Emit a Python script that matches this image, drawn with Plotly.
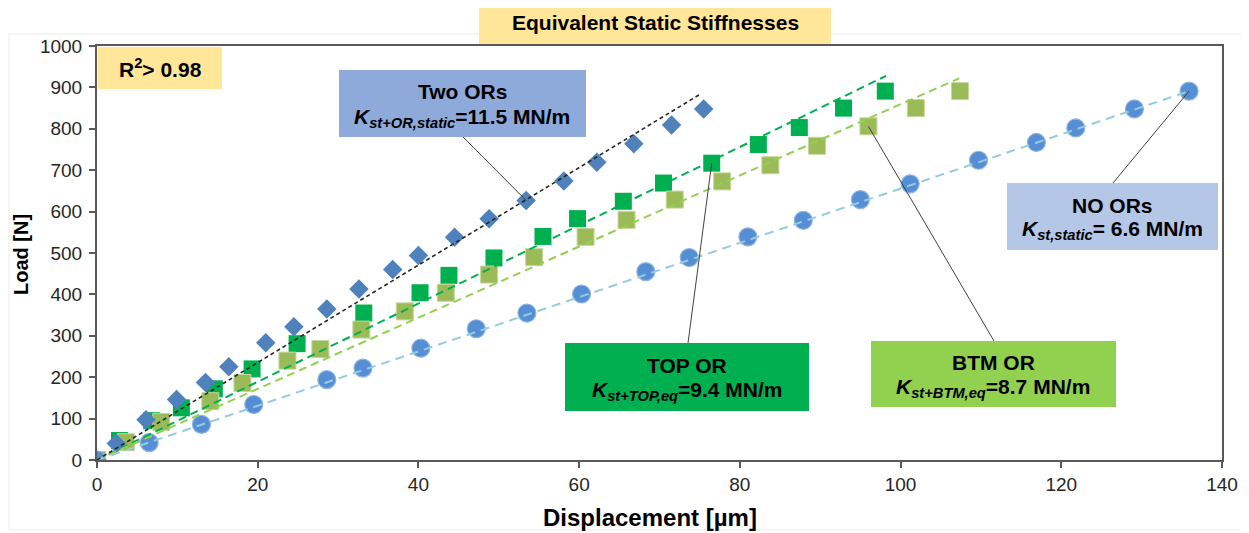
import plotly.graph_objects as go

# ---------------- data ----------------
two_x = [0, 2.4, 6.1, 9.9, 13.5, 16.4, 21.0, 24.5, 28.6, 32.6, 36.8, 40.0, 44.5, 48.8, 53.4, 58.1, 62.2, 66.8, 71.5, 75.5]
two_y = [0, 40, 97, 146, 187, 225, 283, 322, 365, 413, 460, 494, 538, 583, 627, 674, 719, 764, 809, 848]

top_x = [0, 2.8, 6.8, 10.5, 14.6, 19.3, 24.9, 33.2, 40.2, 43.8, 49.4, 55.5, 59.8, 65.5, 70.5, 76.5, 82.3, 87.4, 92.9, 98.1]
top_y = [0, 47, 95, 126, 172, 220, 281, 355, 404, 446, 488, 540, 583, 625, 669, 717, 762, 803, 850, 891]

btm_x = [0, 3.6, 8.0, 14.1, 18.1, 23.7, 27.8, 32.9, 38.3, 43.4, 48.8, 54.4, 60.8, 65.9, 71.9, 77.8, 83.8, 89.6, 96.0, 101.9, 107.4]
btm_y = [0, 43, 92, 142, 186, 240, 268, 315, 359, 404, 448, 490, 539, 580, 629, 673, 712, 759, 806, 850, 891]

no_x = [0, 6.5, 13.0, 19.5, 28.6, 33.1, 40.3, 47.2, 53.5, 60.3, 68.3, 73.7, 81.0, 87.9, 95.0, 101.2, 109.7, 116.9, 121.8, 129.1, 135.9]
no_y = [0, 42, 86, 134, 194, 222, 270, 317, 355, 401, 455, 489, 539, 579, 629, 667, 724, 767, 802, 848, 891]

# linear trend lines (start / end points)
trend_two_x, trend_two_y = [0, 75.1], [0, 884]
trend_top_x, trend_top_y = [0, 98.2], [0, 928]
trend_btm_x, trend_btm_y = [0, 107.3], [0, 922]
trend_no_x, trend_no_y = [0, 135.9], [0, 891]

x_ticks = [0, 20, 40, 60, 80, 100, 120, 140]
y_ticks = [0, 100, 200, 300, 400, 500, 600, 700, 800, 900, 1000]

title_text = "Equivalent Static Stiffnesses"
r2_text = "R<sup>2</sup>> 0.98"
x_title = "Displacement [µm]"
y_title = "Load [N]"

# ---------------- layout helpers ----------------
# the page body has an 8px margin, so the figure starts at (8, 8)
OX, OY = 8, 8
W, H = 1249 - OX, 533 - OY
# plot area in reference page pixels: x 97..1222, y 46..460
PL, PR, PT, PB = 97, 1222, 46, 460
L, R, T, B = PL - OX, W - (PR - OX), PT - OY, H - (PB - OY)
PW, PH = PR - PL, PB - PT


def px(x):
    return (x - PL) / PW


def py(y):
    return (PB - y) / PH


def dx(x):
    return (x - PL) / PW * 140


def dy(y):
    return (PB - y) / PH * 1000


FONT = "Liberation Sans, Arial, sans-serif"

fig = go.Figure()

# markers
fig.add_trace(go.Scatter(x=top_x, y=top_y, mode="markers", name="TOP OR",
                         marker=dict(symbol="square", size=17, color="#00b050",
                                     line=dict(width=0))))
fig.add_trace(go.Scatter(x=btm_x, y=btm_y, mode="markers", name="BTM OR",
                         marker=dict(symbol="square", size=17, color="#9bbb59",
                                     line=dict(width=1, color="#c4d79b"))))
fig.add_trace(go.Scatter(x=two_x, y=two_y, mode="markers", name="Two ORs",
                         marker=dict(symbol="diamond", size=15, color="#4f81bd",
                                     line=dict(width=0))))
fig.add_trace(go.Scatter(x=no_x, y=no_y, mode="markers", name="NO ORs",
                         marker=dict(symbol="circle", size=18, color="#558ed5",
                                     line=dict(width=1.2, color="#8db4e2"))))

# trend lines
fig.add_trace(go.Scatter(x=trend_top_x, y=trend_top_y, mode="lines",
                         line=dict(color="#00b050", width=2, dash="8px,5px")))
fig.add_trace(go.Scatter(x=trend_btm_x, y=trend_btm_y, mode="lines",
                         line=dict(color="#92d050", width=2, dash="8px,5px")))
fig.add_trace(go.Scatter(x=trend_no_x, y=trend_no_y, mode="lines",
                         line=dict(color="#93cddd", width=2, dash="9px,6px")))
fig.add_trace(go.Scatter(x=trend_two_x, y=trend_two_y, mode="lines",
                         line=dict(color="#262626", width=1.6, dash="4px,3px")))

shapes = []
annotations = []

# outer chart-area border
shapes.append(dict(type="rect", xref="paper", yref="paper", x0=px(9), x1=px(1246),
                   y0=py(530), y1=py(34), line=dict(color="#ececec", width=1),
                   fillcolor="rgba(0,0,0,0)", layer="below"))


def box(x0, y0, x1, y1, color):
    shapes.append(dict(type="rect", xref="paper", yref="paper", x0=px(x0), x1=px(x1),
                       y0=py(y1), y1=py(y0), fillcolor=color, line=dict(width=0),
                       layer="above"))


def text(x, y, s, size=21, angle=0):
    annotations.append(dict(x=px(x), y=py(y), xref="paper", yref="paper", text=s,
                            showarrow=False, xanchor="center", yanchor="middle",
                            textangle=angle,
                            font=dict(family=FONT, size=size, color="#000000")))


def leader(bx, by, tx, ty):
    shapes.append(dict(type="line", xref="x", yref="y", x0=dx(bx), y0=dy(by), x1=tx, y1=ty,
                       line=dict(color="#404040", width=1), layer="above"))


# title box
box(479, 2, 831, 44, "#ffe699")
text(655, 23, "<b>" + title_text + "</b>", 21)

# R2 box
box(98, 47, 222, 89, "#ffe699")
text(160, 68, "<b>" + r2_text + "</b>", 21)

# Two ORs
leader(463, 137, two_x[14], two_y[14])
box(339, 70, 586, 137, "#8eaadb")
text(462, 91, "<b>Two ORs</b>")
text(462, 118, "<b><i>K</i><sub><i>st+OR,static</i></sub>=11.5 MN/m</b>")

# NO ORs
leader(1113, 183, no_x[-1], no_y[-1])
box(1007, 183, 1218, 250, "#b4c7e7")
text(1112, 205, "<b>NO ORs</b>")
text(1112, 230, "<b><i>K</i><sub><i>st,static</i></sub>= 6.6 MN/m</b>")

# TOP OR
leader(688, 343, top_x[15], top_y[15])
box(565, 343, 809, 411, "#00b050")
text(687, 365, "<b>TOP OR</b>")
text(687, 391, "<b><i>K</i><sub><i>st+TOP,eq</i></sub>=9.4 MN/m</b>")

# BTM OR
leader(994, 341, btm_x[18], btm_y[18])
box(871, 341, 1116, 407, "#92d050")
text(993, 362, "<b>BTM OR</b>")
text(993, 388, "<b><i>K</i><sub><i>st+BTM,eq</i></sub>=8.7 MN/m</b>")

# axis titles
text(650, 517, "<b>" + x_title + "</b>", 24)
text(21, 255, "<b>" + y_title + "</b>", 20, -90)

fig.update_layout(
    width=W, height=H,
    margin=dict(l=L, r=R, t=T, b=B, pad=0),
    paper_bgcolor="white", plot_bgcolor="white",
    showlegend=False,
    font=dict(family=FONT, size=19, color="#262626"),
    shapes=shapes, annotations=annotations,
    xaxis=dict(range=[0, 140], tickvals=x_ticks, showgrid=False, zeroline=False,
               showline=True, linecolor="#595959", linewidth=2, mirror=True,
               ticks="outside", ticklen=6, tickwidth=1.5, tickcolor="#595959",
               tickfont=dict(size=19, color="#262626")),
    yaxis=dict(range=[0, 1000], tickvals=y_ticks, showgrid=False, zeroline=False,
               showline=True, linecolor="#595959", linewidth=2, mirror=True,
               ticks="outside", ticklen=6, tickwidth=1.5, tickcolor="#595959",
               ticklabelstandoff=3,
               tickfont=dict(size=19, color="#262626")),
)

fig.write_html("out.html")
